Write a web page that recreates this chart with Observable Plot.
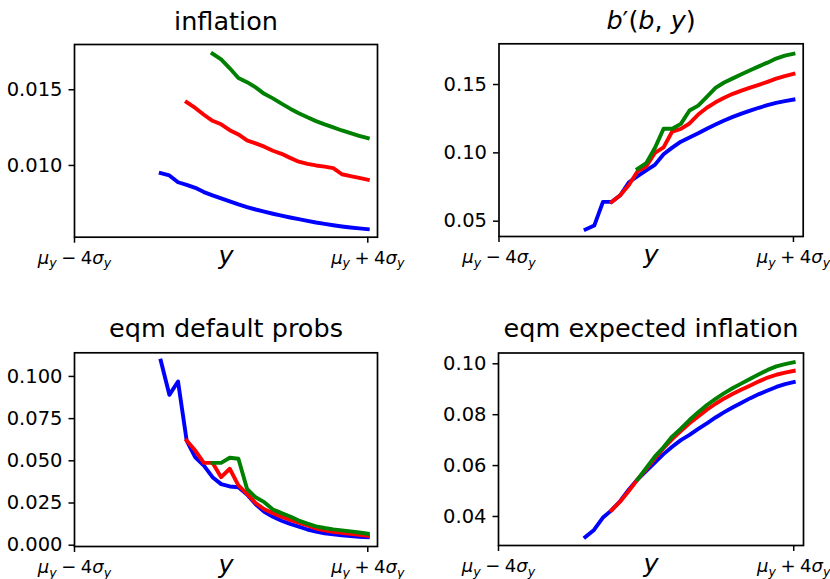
<!DOCTYPE html>
<html>
<head>
<meta charset="utf-8">
<script src="https://cdn.jsdelivr.net/npm/d3@7"></script>
<script src="https://cdn.jsdelivr.net/npm/@observablehq/plot@0.6"></script>
<style>
  body { margin: 0; background: #fff; }
  #grid { position: relative; width: 830px; height: 579px; overflow: hidden; background: #fff; }
  #grid svg { position: absolute; overflow: visible; }
</style>
</head>
<body>
<div id="grid"></div>
<script>
// ---- data ----
// income grid in units of sigma_y (kinks of the lines)
const yGrid = [-1.647, -1.412, -1.176, -0.941, -0.706, -0.471, -0.235, 0, 0.235, 0.471, 0.706, 0.941,
  1.176, 1.412, 1.647, 1.882, 2.118, 2.353, 2.588, 2.824, 3.059, 3.294, 3.529, 3.765, 4];

const inflationBlue = [0.00949, 0.00934, 0.00889, 0.00872, 0.00852, 0.00824, 0.00802, 0.00782, 0.00763, 0.00743,
  0.00725, 0.00709, 0.00695, 0.00681, 0.00668, 0.00656, 0.00645, 0.00634, 0.00623, 0.00614, 0.00605, 0.00597,
  0.00590, 0.00584, 0.00579];
const inflationRed = [0.01418, 0.01380, 0.01335, 0.01295, 0.01272, 0.01233, 0.01205, 0.01166, 0.01146, 0.01124,
  0.01097, 0.01077, 0.01050, 0.01025, 0.01010, 0.01000, 0.00992, 0.00982, 0.00942, 0.00930, 0.00918, 0.00906];
const inflationGreen = [0.01738, 0.01700, 0.01642, 0.01578, 0.01550, 0.01516, 0.01473, 0.01443, 0.01408, 0.01375,
  0.01345, 0.01318, 0.01293, 0.01271, 0.01251, 0.01231, 0.01213, 0.01196, 0.01180];

const bprimeBlue = [0.0439, 0.0468, 0.0641, 0.0641, 0.0690, 0.0785, 0.0830, 0.0872, 0.0912, 0.0990, 0.1038, 0.1082,
  0.1112, 0.1143, 0.1176, 0.1207, 0.1237, 0.1263, 0.1287, 0.1309, 0.1330, 0.1349, 0.1366, 0.1379, 0.1390];
const bprimeRed = [0.0641, 0.0690, 0.0765, 0.0865, 0.0900, 0.1000, 0.1040, 0.1156, 0.1176, 0.1215, 0.1280, 0.1330,
  0.1370, 0.1403, 0.1432, 0.1455, 0.1477, 0.1498, 0.1520, 0.1543, 0.1562, 0.1578];
const bprimeGreen = [0.0883, 0.0925, 0.1035, 0.1176, 0.1176, 0.1212, 0.1310, 0.1346, 0.1410, 0.1475, 0.1515, 0.1545,
  0.1575, 0.1605, 0.1633, 0.1660, 0.1690, 0.1712, 0.1725];

const defaultBlue = [0.1094, 0.0891, 0.0970, 0.0620, 0.0521, 0.0472, 0.0403, 0.0362, 0.0348, 0.0343, 0.0300, 0.0243,
  0.0198, 0.0168, 0.0145, 0.0126, 0.0110, 0.0093, 0.0081, 0.0071, 0.0064, 0.0058, 0.0054, 0.0050, 0.0047];
const defaultRed = [0.0620, 0.0561, 0.0488, 0.0488, 0.0403, 0.0453, 0.0354, 0.0304, 0.0250, 0.0213, 0.0190, 0.0169,
  0.0150, 0.0133, 0.0117, 0.0099, 0.0088, 0.0080, 0.0073, 0.0067, 0.0061, 0.0056];
const defaultGreen = [0.0488, 0.0488, 0.0518, 0.0512, 0.0334, 0.0284, 0.0255, 0.0212, 0.0190, 0.0170, 0.0146, 0.0128,
  0.0112, 0.0102, 0.0094, 0.0088, 0.0082, 0.0075, 0.0068];

const expInflBlue = [0.0319, 0.0347, 0.0395, 0.0424, 0.0460, 0.0505, 0.0545, 0.0578, 0.0612, 0.0645, 0.0674, 0.0700,
  0.0721, 0.0744, 0.0766, 0.0789, 0.0810, 0.0829, 0.0847, 0.0865, 0.0881, 0.0895, 0.0909, 0.0920, 0.0928];
const expInflRed = [0.0424, 0.0458, 0.0500, 0.0545, 0.0585, 0.0628, 0.0668, 0.0704, 0.0736, 0.0766, 0.0793, 0.0820,
  0.0843, 0.0864, 0.0882, 0.0899, 0.0915, 0.0931, 0.0946, 0.0957, 0.0965, 0.0972];
const expInflGreen = [0.0545, 0.0590, 0.0635, 0.0672, 0.0714, 0.0745, 0.0779, 0.0810, 0.0838, 0.0862, 0.0885, 0.0905,
  0.0923, 0.0941, 0.0959, 0.0976, 0.0990, 0.0999, 0.1006];

const titles = ["inflation", "b′(b, y)", "eqm default probs", "eqm expected inflation"];
const xTickValues = [-4, 4];
const xTickLabels = ["μ_y\u2005−\u20054σ_y", "μ_y\u2005+\u20054σ_y"];
const xLabel = "y";
const yTicksInflation = [0.010, 0.015];
const yTicksBprime = [0.05, 0.10, 0.15];
const yTicksDefault = [0.000, 0.025, 0.050, 0.075, 0.100];
const yTicksExpInfl = [0.04, 0.06, 0.08, 0.10];

// ---- helpers ----
function rows(values) {
  const off = yGrid.length - values.length;
  return values.map((v, i) => ({x: yGrid[off + i], y: v}));
}

function renderMath(textEl, str, shift) {
  const sel = d3.select(textEl);
  sel.text(null);
  let shifted = false;
  for (let i = 0; i < str.length; i++) {
    let ch = str[i];
    let sub = false;
    if (ch === "_") { sub = true; ch = str[++i]; }
    const t = sel.append("tspan").text(ch);
    if (/[a-zμσ]/.test(ch)) t.attr("font-style", "italic");
    if (sub) {
      t.style("font-size", "0.7em");
      if (!shifted) { t.attr("dy", shift + "px"); shifted = true; }
    } else if (shifted) {
      t.attr("dy", (-shift) + "px"); shifted = false;
    }
  }
}

const colors = ["#0000ff", "#ff0000", "#008000"];

function panel(cfg) {
  const svg = Plot.plot({
    width: 415,
    height: 290,
    marginLeft: cfg.ml, marginRight: cfg.mr, marginTop: cfg.mt, marginBottom: cfg.mb,
    style: {fontFamily: "DejaVu Sans, sans-serif", fontSize: "18px", color: "black", background: "transparent"},
    x: {domain: [-4, 4.265]},
    y: {domain: cfg.yDomain},
    marks: [
      ...cfg.series.map((s, i) => Plot.line(rows(s), {
        x: "x", y: "y", stroke: colors[i], strokeWidth: 3.9,
        strokeLinecap: "square", strokeLinejoin: "round"
      })),
      Plot.frame({stroke: "black", strokeWidth: 1.7}),
      Plot.axisY({ticks: cfg.yTicks, tickFormat: d3.format(cfg.fmt), tickSize: 5.5, tickPadding: 6.5,
        strokeWidth: 1.5, fontSize: 19.5, label: null}),
      Plot.axisX({ticks: xTickValues, tickFormat: d => d < 0 ? xTickLabels[0] : xTickLabels[1],
        tickSize: 6, tickPadding: 8, strokeWidth: 1.5, fontSize: 18, label: null}),
      Plot.text([cfg.title], {frameAnchor: "top", lineAnchor: "bottom", dy: cfg.titleDy, fontSize: 25.5,
        text: d => d}),
      Plot.text([xLabel], {frameAnchor: "bottom", lineAnchor: "bottom", dy: 26.5, fontSize: 25.5,
        fontStyle: "italic", text: d => d})
    ]
  });
  svg.style.left = cfg.left + "px";
  svg.style.top = cfg.top + "px";
  d3.select(svg).selectAll('g[aria-label="x-axis tick label"] text').each(function () {
    renderMath(this, this.textContent, 3.5);
  });
  if (cfg.mathTitle) {
    d3.select(svg).selectAll('g[aria-label="text"] text').each(function () {
      if (this.textContent === cfg.title) renderMath(this, cfg.title, 4);
    });
  }
  document.getElementById("grid").appendChild(svg);
}

panel({left: 0, top: 0, ml: 74, mr: 38, mt: 44, mb: 53.3, yDomain: [0.00526, 0.01799],
  yTicks: yTicksInflation, fmt: ".3f", title: titles[0], titleDy: -14.7,
  series: [inflationBlue, inflationRed, inflationGreen]});
panel({left: 415, top: 0, ml: 83.5, mr: 27.3, mt: 43.3, mb: 54, yDomain: [0.0388, 0.1798],
  yTicks: yTicksBprime, fmt: ".2f", title: titles[1], titleDy: -15, mathTitle: true,
  series: [bprimeBlue, bprimeRed, bprimeGreen]});
panel({left: 0, top: 290, ml: 74, mr: 38, mt: 62.3, mb: 34, yDomain: [-0.00077, 0.1140],
  yTicks: yTicksDefault, fmt: ".3f", title: titles[2], titleDy: -15.8,
  series: [defaultBlue, defaultRed, defaultGreen]});
panel({left: 415, top: 290, ml: 83, mr: 27, mt: 62.5, mb: 35, yDomain: [0.0286, 0.10424],
  yTicks: yTicksExpInfl, fmt: ".2f", title: titles[3], titleDy: -15.8,
  series: [expInflBlue, expInflRed, expInflGreen]});
</script>
</body>
</html>
